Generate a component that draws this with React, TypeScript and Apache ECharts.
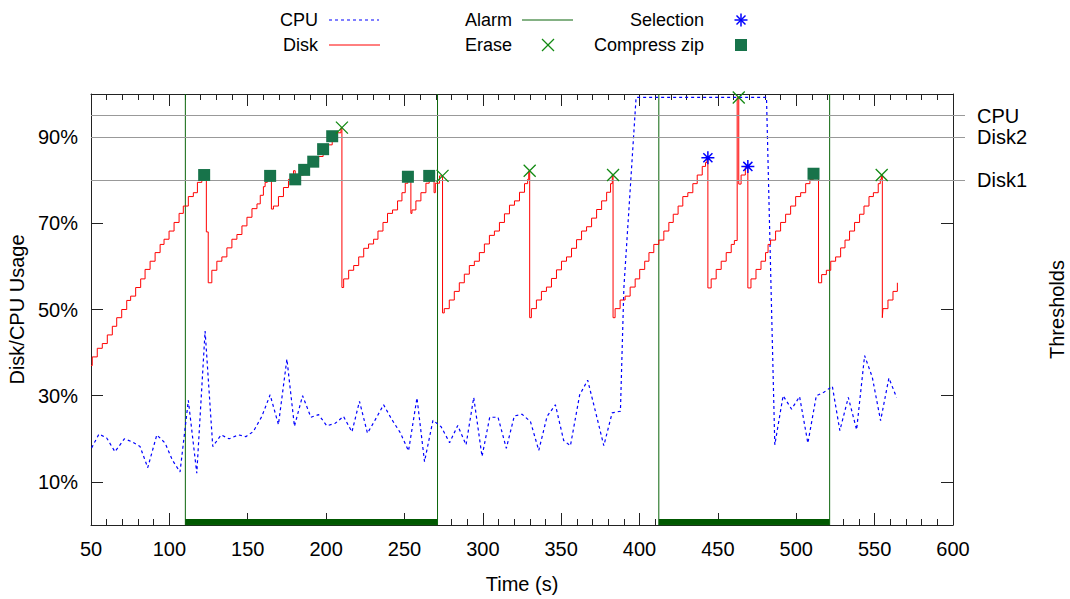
import React, { useEffect, useRef } from "react";
import * as echarts from "echarts";

const FONT = '"Liberation Sans", Arial, Helvetica, sans-serif';

// CPU usage samples [time s, %]
const cpuData: [number, number][] = [
  [50.4, 17.9], [55.1, 21.1], [60.0, 20.2], [65.3, 17.0], [71.3, 20.0], [76.2, 19.3],
  [81.3, 18.2], [86.2, 13.3], [92.0, 20.9], [97.3, 19.0], [102.0, 15.0], [106.8, 12.3],
  [112.1, 28.9], [117.5, 12.0], [122.8, 45.0], [127.7, 18.2], [133.0, 20.9], [138.1, 20.0],
  [144.1, 20.9], [148.8, 20.5], [153.6, 21.7], [159.0, 25.2], [164.3, 30.2], [169.6, 23.3],
  [175.0, 38.5], [179.8, 22.9], [185.0, 30.0], [190.3, 25.0], [195.2, 25.6], [200.5, 23.0],
  [205.8, 23.6], [211.1, 25.2], [216.5, 21.6], [221.3, 28.7], [226.4, 21.3], [231.5, 24.5],
  [236.7, 27.9], [241.9, 24.5], [247.2, 21.5], [252.6, 17.2], [258.0, 29.5], [262.8, 14.7],
  [268.2, 24.3], [273.4, 22.8], [278.8, 19.1], [284.0, 23.1], [289.3, 18.6], [294.2, 29.6],
  [299.5, 15.9], [304.4, 25.0], [309.7, 25.0], [315.0, 17.8], [320.1, 25.3], [325.0, 25.7],
  [330.4, 24.0], [335.7, 17.3], [341.0, 25.2], [346.3, 27.9], [351.6, 19.6], [355.9, 18.4],
  [361.8, 30.2], [366.9, 33.6], [372.1, 26.0], [377.2, 18.4], [382.5, 26.0], [387.8, 26.4],
  [390.0, 55.0], [397.8, 99.2], [481.0, 99.2], [486.3, 18.6], [491.6, 30.0], [497.0, 26.9],
  [502.1, 29.8], [507.4, 19.0], [512.8, 30.0], [517.6, 30.8], [523.0, 32.2], [527.8, 21.9],
  [533.2, 29.6], [538.5, 22.1], [543.6, 39.3], [548.5, 34.3], [553.8, 24.2], [559.1, 34.1],
  [564.0, 29.6],
];

// Disk usage, sample-and-hold readings [time s, %]
const diskData: [number, number][] = [
  [50.0, 37.0], [50.8, 39.0], [54.0, 41.0], [57.2, 42.1], [60.4, 44.1], [63.6, 46.1],
  [66.4, 48.1], [69.6, 50.0], [72.8, 52.1], [75.3, 53.1], [78.5, 55.1], [81.7, 57.1],
  [84.5, 59.3], [87.7, 61.2], [90.9, 63.2], [94.1, 65.1], [96.6, 66.3], [99.8, 68.2],
  [103.0, 70.2], [106.2, 72.3], [108.9, 74.0], [112.1, 76.2], [115.3, 77.1], [117.9, 79.5],
  [120.7, 80.5], [123.6, 68.0], [124.8, 56.2],
  [127.1, 59.1], [130.3, 61.2], [133.5, 62.2], [136.7, 64.3], [139.9, 66.3], [143.1, 67.4],
  [146.3, 69.4], [149.5, 71.4], [152.7, 73.4], [155.9, 74.5], [158.0, 76.5], [160.0, 78.5],
  [161.1, 79.5], [162.5, 80.5], [165.1, 73.3],
  [166.4, 74.0], [169.6, 76.2], [172.8, 78.3], [176.0, 80.2], [179.2, 82.2], [180.3, 80.2],
  [182.4, 81.2], [185.6, 82.4], [188.8, 83.3], [192.0, 84.3], [195.2, 85.5], [198.1, 87.2],
  [201.3, 88.2], [203.9, 90.2], [207.0, 91.0], [209.5, 92.2], [210.1, 55.1],
  [211.2, 57.1], [214.4, 59.1], [217.6, 60.2], [220.8, 62.2], [224.0, 64.2], [227.1, 65.2],
  [230.3, 66.3], [233.1, 68.2], [236.3, 70.2], [239.2, 72.3], [242.4, 73.1], [245.6, 75.2],
  [248.4, 77.1], [250.5, 79.3], [252.2, 80.8], [254.1, 72.3], [254.8, 73.1], [257.3, 75.2],
  [260.5, 77.1], [263.7, 79.3], [265.8, 81.0], [268.9, 77.1], [269.7, 79.3], [272.4, 81.0],
  [274.3, 49.2],
  [275.4, 50.2], [278.6, 52.2], [281.8, 54.2], [285.0, 56.2], [288.2, 58.2], [291.4, 60.2],
  [294.6, 61.2], [297.8, 63.2], [301.0, 65.2], [304.2, 67.2], [307.4, 68.2], [310.6, 70.2],
  [313.8, 72.2], [317.0, 74.2], [320.2, 75.2], [323.4, 77.2], [326.6, 79.2], [328.6, 80.2],
  [329.3, 82.2], [329.9, 48.1],
  [331.0, 50.2], [334.2, 52.2], [337.4, 54.2], [340.6, 55.2], [343.8, 57.2], [347.0, 59.2],
  [350.2, 61.2], [353.4, 62.2], [356.6, 64.2], [359.8, 66.2], [363.0, 68.2], [366.2, 69.2],
  [369.4, 71.2], [372.6, 73.2], [375.8, 75.2], [379.0, 77.2], [381.5, 79.2], [382.6, 81.2],
  [383.1, 48.1],
  [384.4, 50.2], [387.6, 52.2], [390.8, 53.1], [394.0, 55.2], [397.2, 57.1], [400.1, 59.3],
  [403.3, 61.2], [406.0, 63.2], [409.1, 65.1], [412.3, 66.1], [415.5, 68.2], [418.7, 70.2],
  [421.5, 72.1], [424.6, 74.0], [427.6, 76.2], [430.8, 77.1], [434.0, 79.2], [436.8, 81.2],
  [440.0, 83.2], [442.1, 84.1], [443.0, 85.2], [443.6, 55.0],
  [445.7, 57.1], [448.9, 59.3], [452.1, 61.2], [455.3, 63.2], [458.5, 65.1], [460.5, 66.0],
  [462.3, 99.2], [463.3, 79.1], [464.8, 81.2], [467.5, 83.2], [469.1, 55.0],
  [471.1, 57.1], [474.3, 59.3], [477.5, 61.2], [480.4, 63.2], [482.0, 65.1], [483.6, 66.1],
  [486.8, 68.2], [490.0, 70.2], [493.2, 72.1], [496.4, 74.0], [499.6, 76.2], [502.8, 77.1],
  [506.0, 79.2], [508.7, 80.2], [511.0, 81.5], [514.2, 56.2],
  [516.2, 58.1], [519.2, 59.1], [522.0, 61.2], [525.1, 62.2], [528.3, 64.3], [531.1, 66.1],
  [534.0, 68.2], [537.2, 70.2], [540.4, 72.1], [543.2, 74.0], [546.4, 76.2], [549.2, 77.1],
  [552.3, 79.2], [553.6, 80.2], [554.3, 81.2], [554.9, 48.1],
  [555.3, 50.2], [558.5, 52.2], [561.7, 54.2], [564.5, 56.2],
];

const eraseData: [number, number][] = [
  [210.1, 92.2], [274.3, 81.0], [329.9, 82.2], [383.1, 81.2], [463.3, 99.2], [554.5, 81.2],
];
const selectionData: [number, number][] = [[443.6, 85.2], [469.1, 83.2]];
const compressData: [number, number][] = [
  [122.2, 81.2], [164.3, 81.0], [180.3, 80.2], [186.0, 82.4], [191.8, 84.3], [198.1, 87.2],
  [203.9, 90.2], [252.2, 80.8], [265.8, 81.0], [511.0, 81.5],
];
const alarmSpans: [number, number][] = [[110.2, 271.1], [412.3, 521.3]];

const yTickValues = [10, 30, 50, 70, 90];
const thresholdValues = [95, 90, 80];
const thresholdNames = ["CPU", "Disk2", "Disk1"];
const X_MIN = 50;
const X_MAX = 600;
const X_STEP = 50;

const AXIS_COLOR = "#222";
const GREEN = "#0b650b";
const ERASE_GREEN = "#138a13";
const ZIP_GREEN = "#17734a";

const X_SYMBOL = "path://M0,0L10,10M10,0L0,10";
const STAR_SYMBOL = "path://M0,5L10,5M5,0L5,10M1.5,1.5L8.5,8.5M8.5,1.5L1.5,8.5";

function legendText(text: string, x: number, y: number) {
  return {
    type: "text",
    x,
    y,
    style: { text, fill: "#000", fontSize: 18, fontFamily: FONT, align: "right", verticalAlign: "middle" },
  };
}

export default function App() {
  const ref = useRef<HTMLDivElement>(null);

  useEffect(() => {
    if (!ref.current) return;
    const chart = echarts.init(ref.current, null, { renderer: "svg" });

    const xCommon = {
      type: "value",
      min: X_MIN,
      max: X_MAX,
      interval: X_STEP,
      splitLine: { show: false },
      minorSplitLine: { show: false },
      axisLine: { show: true, onZero: false, lineStyle: { color: AXIS_COLOR, width: 1 } },
      axisTick: { show: true, inside: true, length: 12, lineStyle: { color: AXIS_COLOR } },
      minorTick: { show: true, splitNumber: 5, length: 6, lineStyle: { color: AXIS_COLOR } },
    };

    const alarmSeries = alarmSpans.map(([a, b]) => ({
      type: "line",
      name: "Alarm",
      data: [[a, 100], [a, 0], [b, 0], [b, 100]],
      symbol: "none",
      lineStyle: { color: GREEN, width: 1 },
      z: 2,
      markArea: {
        silent: true,
        itemStyle: { color: "#005800", opacity: 1 },
        data: [[{ coord: [a, 0] }, { coord: [b, 1.4] }]],
      },
    }));

    const option: any = {
      animation: false,
      textStyle: { fontFamily: FONT },
      grid: { left: 91, right: 117, top: 94, bottom: 74, containLabel: false, outerBoundsMode: "none" },
      xAxis: [
        {
          ...xCommon,
          position: "bottom",
          axisLabel: { fontSize: 20, color: "#000", margin: 14, fontFamily: FONT },
          name: "Time (s)",
          nameLocation: "middle",
          nameGap: 49,
          nameTextStyle: { fontSize: 20, color: "#000", fontFamily: FONT },
        },
        { ...xCommon, position: "top", axisLabel: { show: false } },
      ],
      yAxis: [
        {
          type: "value",
          min: 0,
          max: 100,
          position: "left",
          splitLine: { show: false },
          axisLine: { show: true, lineStyle: { color: AXIS_COLOR, width: 1 } },
          axisTick: { show: true, inside: true, length: 12, customValues: yTickValues, lineStyle: { color: AXIS_COLOR } },
          axisLabel: {
            customValues: yTickValues,
            formatter: "{value}%",
            fontSize: 20,
            color: "#000",
            margin: 13,
            fontFamily: FONT,
          },
          name: "Disk/CPU Usage",
          nameLocation: "middle",
          nameGap: 62,
          nameRotate: 90,
          nameTextStyle: { fontSize: 20, color: "#000", fontFamily: FONT },
        },
        {
          type: "value",
          min: 0,
          max: 100,
          position: "right",
          splitLine: { show: false },
          axisLine: { show: true, lineStyle: { color: AXIS_COLOR, width: 1 } },
          axisTick: { show: true, inside: false, length: 12, customValues: thresholdValues, lineStyle: { color: "#999" } },
          axisLabel: {
            customValues: thresholdValues,
            formatter: (v: number) => thresholdNames[thresholdValues.indexOf(v)] ?? "",
            fontSize: 20,
            color: "#000",
            margin: 24,
            fontFamily: FONT,
          },
          name: "Thresholds",
          nameLocation: "middle",
          nameGap: 94,
          nameRotate: 90,
          nameTextStyle: { fontSize: 20, color: "#000", fontFamily: FONT },
        },
        {
          type: "value",
          min: 0,
          max: 100,
          position: "right",
          splitLine: { show: false },
          axisLine: { show: false },
          axisTick: { show: true, inside: true, length: 12, customValues: yTickValues, lineStyle: { color: AXIS_COLOR } },
          axisLabel: { show: false },
        },
      ],
      series: [
        {
          type: "line",
          name: "thresholds",
          data: [],
          z: 1,
          markLine: {
            silent: true,
            symbol: ["none", "none"],
            label: { show: false },
            lineStyle: { color: "#999", width: 1, type: "solid" },
            data: thresholdValues.map((v) => ({ yAxis: v })),
          },
        },
        ...alarmSeries,
        {
          type: "line",
          name: "CPU",
          data: cpuData,
          symbol: "none",
          lineStyle: { color: "#0000ff", width: 1.2, type: [3, 3] },
          z: 3,
        },
        {
          type: "line",
          name: "Disk",
          step: "end",
          data: diskData,
          symbol: "none",
          lineStyle: { color: "#ff0000", width: 1 },
          z: 4,
        },
        {
          type: "scatter",
          name: "Compress zip",
          data: compressData,
          symbol: "rect",
          symbolSize: 12,
          itemStyle: { color: ZIP_GREEN, opacity: 1 },
          z: 5,
        },
        {
          type: "scatter",
          name: "Erase",
          data: eraseData,
          symbol: X_SYMBOL,
          symbolSize: 12,
          itemStyle: { color: "rgba(0,0,0,0)", borderColor: ERASE_GREEN, borderWidth: 1.3, opacity: 1 },
          z: 6,
        },
        {
          type: "scatter",
          name: "Selection",
          data: selectionData,
          symbol: STAR_SYMBOL,
          symbolSize: 13,
          itemStyle: { color: "rgba(0,0,0,0)", borderColor: "#0000ff", borderWidth: 1.5, opacity: 1 },
          z: 6,
        },
      ],
      graphic: [
        legendText("CPU", 318, 20),
        { type: "line", shape: { x1: 329, y1: 20, x2: 379, y2: 20 }, style: { stroke: "#0000ff", lineWidth: 1.2, lineDash: [3, 3] } },
        legendText("Disk", 318, 45),
        { type: "line", shape: { x1: 329, y1: 45, x2: 380, y2: 45 }, style: { stroke: "#ff0000", lineWidth: 1 } },
        legendText("Alarm", 512, 20),
        { type: "line", shape: { x1: 522, y1: 20, x2: 573, y2: 20 }, style: { stroke: GREEN, lineWidth: 1 } },
        legendText("Erase", 512, 45),
        { type: "line", shape: { x1: 542, y1: 39, x2: 554, y2: 51 }, style: { stroke: ERASE_GREEN, lineWidth: 1.3 } },
        { type: "line", shape: { x1: 554, y1: 39, x2: 542, y2: 51 }, style: { stroke: ERASE_GREEN, lineWidth: 1.3 } },
        legendText("Selection", 704, 20),
        { type: "line", shape: { x1: 734.5, y1: 20, x2: 747.5, y2: 20 }, style: { stroke: "#0000ff", lineWidth: 1.5 } },
        { type: "line", shape: { x1: 741, y1: 13.5, x2: 741, y2: 26.5 }, style: { stroke: "#0000ff", lineWidth: 1.5 } },
        { type: "line", shape: { x1: 736.5, y1: 15.5, x2: 745.5, y2: 24.5 }, style: { stroke: "#0000ff", lineWidth: 1.5 } },
        { type: "line", shape: { x1: 745.5, y1: 15.5, x2: 736.5, y2: 24.5 }, style: { stroke: "#0000ff", lineWidth: 1.5 } },
        legendText("Compress zip", 704, 45),
        { type: "rect", shape: { x: 735, y: 39, width: 12, height: 12 }, style: { fill: ZIP_GREEN } },
      ],
    };

    chart.setOption(option);
    return () => chart.dispose();
  }, []);

  return <div ref={ref} style={{ position: "absolute", left: 0, top: 0, width: 1070, height: 599 }} />;
}
